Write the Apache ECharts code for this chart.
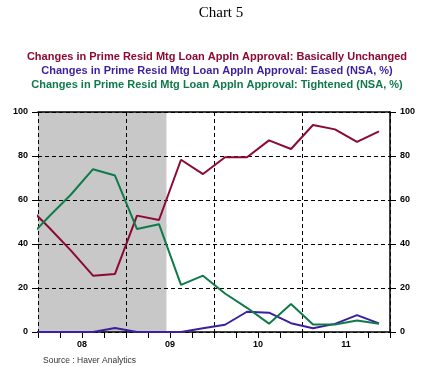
<!DOCTYPE html>
<html><head><meta charset="utf-8">
<script src="https://cdn.jsdelivr.net/npm/echarts@6/dist/echarts.min.js"></script>
<style>html,body{margin:0;padding:0;background:#fff}#c{width:442px;height:366px}</style>
</head><body><div id="c"></div>
<script>
// Survey dates (fractional years, quarterly)
const dates = [2007.875, 2008.125, 2008.375, 2008.625, 2008.875, 2009.125, 2009.375, 2009.625, 2009.875,
  2010.125, 2010.375, 2010.625, 2010.875, 2011.125, 2011.375, 2011.625, 2011.875];
const unchanged = [57.5, 47.5, 37, 25.6, 26.4, 52.9, 50.9, 78.3, 71.8, 79.4, 79.4, 87.1, 83.2, 94.1, 92.1, 86.4, 91.2];
const eased = [0, 0, 0, 0, 1.8, 0, 0, 0, 1.7, 3.3, 9.2, 8.8, 4.0, 1.7, 3.7, 7.7, 3.9];
const tightened = [42, 52.5, 62.5, 74, 71.1, 46.8, 49, 21.4, 25.6, 17.5, 11, 3.8, 12.7, 3.4, 3.4, 5.2, 3.8];
const yearLabels = {2008.5: '08', 2009.5: '09', 2010.5: '10', 2011.5: '11'};
const recession = [2008, 2009.46];
const names = [
  'Changes in Prime Resid Mtg Loan Appln Approval: Basically Unchanged',
  'Changes in Prime Resid Mtg Loan Appln Approval: Eased (NSA, %)',
  'Changes in Prime Resid Mtg Loan Appln Approval: Tightened (NSA, %)'
];
const colors = ['#8C0A32', '#3C1E9E', '#0F7A4A'];

const chart = echarts.init(document.getElementById('c'));
const pair = arr => dates.map((d, i) => [d, arr[i]]);
const lineSeries = (name, arr, color) => ({
  name, type: 'line', data: pair(arr), symbol: 'none', z: 5, clip: true,
  lineStyle: {color, width: 2}, itemStyle: {color}
});
const axisLbl = {fontFamily: 'Liberation Sans, Arial', fontWeight: 'bold', fontSize: 9, color: '#000'};
const legendStyle = c => ({fontFamily: 'Liberation Sans, Arial', fontWeight: 'bold', fontSize: 11, color: c});
chart.setOption({
  animation: false,
  title: [
    {text: 'Chart 5', left: 'center', top: 1, textStyle: {fontFamily: 'Liberation Serif, Times New Roman', fontWeight: 'normal', fontSize: 15, color: '#000'}},
    {text: names[0], left: 212, textAlign: 'center', top: 46, textStyle: legendStyle(colors[0])},
    {text: names[1], left: 212, textAlign: 'center', top: 60, textStyle: legendStyle(colors[1])},
    {text: names[2], left: 212, textAlign: 'center', top: 74, textStyle: legendStyle(colors[2])},
    {text: 'Source : Haver Analytics', left: 38, top: 351, textStyle: {fontFamily: 'Liberation Sans, Arial', fontWeight: 'normal', fontSize: 8.5, color: '#333'}}
  ],
  grid: {left: 38, right: 52, top: 112, bottom: 34},
  xAxis: [
    {type: 'value', min: 2008, max: 2012, interval: 0.25, position: 'bottom', z: 4,
     axisLine: {show: true, lineStyle: {color: '#000', width: 1.5}},
     axisTick: {show: true, length: 6, lineStyle: {color: '#000'}},
     axisLabel: {...axisLbl, margin: 8, formatter: v => yearLabels[v] || ''},
     splitLine: {show: false}},
    {type: 'value', min: 2008, max: 2012, interval: 1, position: 'top', z: 4,
     axisLine: {show: true, onZero: false, lineStyle: {color: '#000', width: 1.5}},
     axisTick: {show: false}, axisLabel: {show: false},
     splitLine: {show: true, lineStyle: {color: '#000', type: [4, 3], width: 1}}}
  ],
  yAxis: [
    {type: 'value', min: 0, max: 100, interval: 20, position: 'left', z: 4,
     axisLine: {show: false}, axisTick: {show: true, length: 6, lineStyle: {color: '#000'}},
     axisLabel: {...axisLbl, margin: 10},
     splitLine: {show: true, lineStyle: {color: '#000', type: [4, 3], width: 1}}},
    {type: 'value', min: 0, max: 100, interval: 20, position: 'right', z: 4,
     axisLine: {show: true, lineStyle: {color: '#000', width: 1.5}},
     axisTick: {show: true, length: 6, lineStyle: {color: '#000'}},
     axisLabel: {...axisLbl, margin: 10},
     splitLine: {show: false}}
  ],
  series: [
    {type: 'line', data: [], z: 0, silent: true,
     markArea: {silent: true, z: 0, itemStyle: {color: '#C8C8C8', opacity: 1},
       data: [[{xAxis: recession[0]}, {xAxis: recession[1]}]]}},
    lineSeries(names[0], unchanged, colors[0]),
    lineSeries(names[1], eased, colors[1]),
    lineSeries(names[2], tightened, colors[2])
  ]
});
</script></body></html>
